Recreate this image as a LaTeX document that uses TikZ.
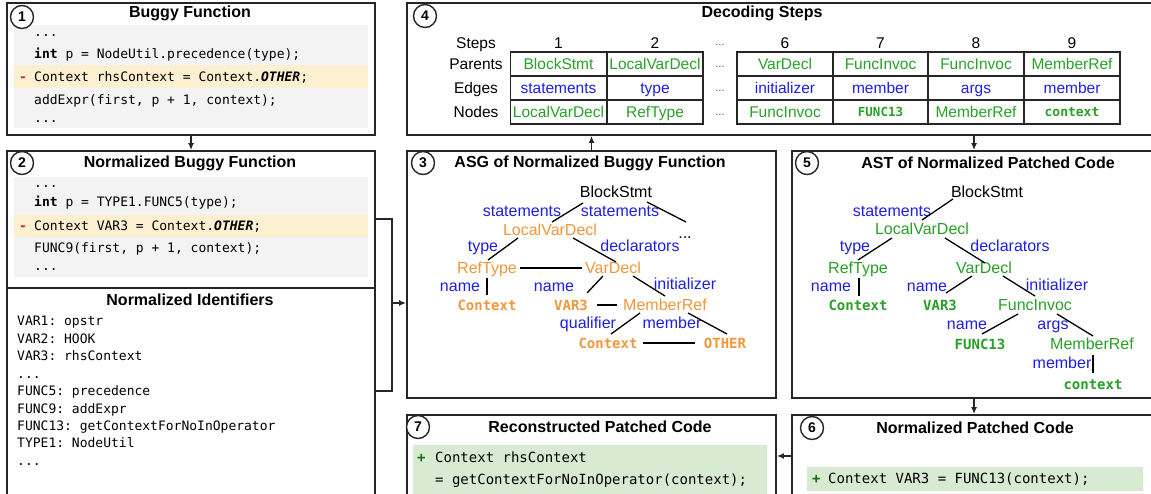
\documentclass[tikz,border=0pt]{standalone}
\usepackage{fontspec}
\setmainfont{Liberation Sans}
\setsansfont{Liberation Sans}
\setmonofont{DejaVu Sans Mono}
\usetikzlibrary{arrows.meta,calc}
\definecolor{asgorange}{RGB}{242,150,60}
\definecolor{astgreen}{RGB}{40,160,40}
\definecolor{edgeblue}{RGB}{30,30,230}
\definecolor{codegray}{RGB}{243,243,243}
\definecolor{hlyellow}{RGB}{253,240,208}
\definecolor{addgreen}{RGB}{217,234,211}
\definecolor{delred}{RGB}{215,30,30}
\definecolor{plusgreen}{RGB}{20,110,20}
\begin{document}
\begin{tikzpicture}[x=1pt,y=-1pt,
  box/.style={draw=black!85, line width=1.8pt, inner sep=0, rectangle},
  boxline/.style={draw=black!85, line width=1.8pt},
  ttl/.style={inner sep=0, font=\fontsize{16}{19}\selectfont\bfseries},
  num/.style={circle, draw=black!85, fill=white, line width=1.4pt, minimum size=23, inner sep=0, font=\fontsize{14}{16}\selectfont\bfseries},
  code/.style={anchor=base west, inner sep=0, font=\fontsize{13}{15}\selectfont\ttfamily},
  bigcode/.style={anchor=base west, inner sep=0, font=\fontsize{14}{16}\selectfont\ttfamily},
  tn/.style={inner sep=0, text height=11.5, text depth=0, font=\fontsize{16}{19}\selectfont},
  lbl/.style={tn, text=edgeblue},
  mono/.style={inner sep=0, text height=10.2, text depth=0, font=\fontsize{14}{16}\selectfont\ttfamily\bfseries},
  treeedge/.style={line width=1.3pt, black},
  conn/.style={line width=1.4pt, black!85},
  arr/.style={line width=1.4pt, black!85, -{Latex[length=7,width=6]}},
  cell/.style={draw=black!85, line width=1.2pt, minimum width=96, minimum height=24, inner sep=0, text height=11, text depth=0, font=\fontsize{15.5}{18}\selectfont},
  rowlbl/.style={inner sep=0, text height=11, text depth=0, font=\fontsize{15.5}{18}\selectfont},
  tdots/.style={inner sep=0, font=\fontsize{11}{13}\selectfont, text=black!70}
]
\useasboundingbox (0,0) rectangle (1151,494);
\clip (0,0) rectangle (1151,494);

% ---------- backgrounds ----------
\fill[codegray] (14,25) rectangle (368,128);
\fill[hlyellow] (14,65) rectangle (368,88);
\fill[codegray] (14,177) rectangle (368,277);
\fill[hlyellow] (14,215) rectangle (368,237);
\fill[addgreen] (413,445) rectangle (767,500);
\fill[addgreen] (807,467) rectangle (1143,491);

% ---------- boxes ----------
\node[box, minimum width=368, minimum height=132] (b1) at (191,69) {};
\node[box, minimum width=368, minimum height=369] (b2) at (191,335.5) {};
\node[box, minimum width=369, minimum height=247] (b3) at (591.5,274.5) {};
\node[box, minimum width=749, minimum height=132] (b4) at (781.5,69) {};
\node[box, minimum width=364, minimum height=247] (b5) at (974,274.5) {};
\node[box, minimum width=364, minimum height=105] (b6) at (974,467.5) {};
\node[box, minimum width=369, minimum height=105] (b7) at (591.5,467.5) {};
\draw[boxline] (b2.west |- 0,288) -- (b2.east |- 0,288);

% ---------- connectors ----------
\coordinate (brk) at (392,303);
\draw[arr] (b1.south) -- (b2.north);
\draw[conn] (b2.east |- 0,219) -| (brk |- 0,391) -- (b2.east |- 0,391);
\draw[arr] (brk) -- (brk -| b3.west);
\draw[arr] (b3.north) -- (b3.north |- b4.south);
\draw[arr] (b4.south -| b5.north) -- (b5.north);
\draw[arr] (b5.south) -- (b6.north);
\draw[arr] (b6.west |- 0,456) -- (b7.east |- 0,456);

% ---------- numbers ----------
\node[num] (n1) at (22,17) {1};
\node[num] (n2) at (22,163) {2};
\node[num] (n3) at (423,163) {3};
\node[num] (n4) at (425,16) {4};
\node[num] (n5) at (807,163) {5};
\node[num] (n6) at (812,428) {6};
\node[num] (n7) at (418,427) {7};

% ---------- titles ----------
\node[ttl] (t1) at (190,13) {Buggy Function};
\node[ttl] (t2) at (190,163) {Normalized Buggy Function};
\node[ttl] (t2b) at (190,300) {Normalized Identifiers};
\node[ttl] (t3) at (590,163) {ASG of Normalized Buggy Function};
\node[ttl] (t4) at (762,13) {Decoding Steps};
\node[ttl] (t5) at (988,163) {AST of Normalized Patched Code};
\node[ttl] (t6) at (975,428) {Normalized Patched Code};
\node[ttl] (t7) at (600,427) {Reconstructed Patched Code};

% ---------- box 1 code ----------
\node[code] (c11) at (34,37) {...};
\node[code] (c12) at (34,59) {\textbf{int} p = NodeUtil.precedence(type);};
\node[code, text=delred] (c13m) at (19,82) {\textbf{-}};
\node[code] (c13) at (34,82) {Context rhsContext = Context.\textbf{\textit{OTHER}};};
\node[code] (c14) at (34,105) {addExpr(first, p + 1, context);};
\node[code] (c15) at (34,123) {...};

% ---------- box 2 code ----------
\node[code] (c21) at (34,188) {...};
\node[code] (c22) at (34,207) {\textbf{int} p = TYPE1.FUNC5(type);};
\node[code, text=delred] (c23m) at (19,231) {\textbf{-}};
\node[code] (c23) at (34,231) {Context VAR3 = Context.\textbf{\textit{OTHER}};};
\node[code] (c24) at (34,253) {FUNC9(first, p + 1, context);};
\node[code] (c25) at (34,271) {...};

% ---------- identifiers ----------
\node[code] (i1) at (17,326) {VAR1: opstr};
\node[code] (i2) at (17,343.4) {VAR2: HOOK};
\node[code] (i3) at (17,360.8) {VAR3: rhsContext};
\node[code] (i4) at (17,378.2) {...};
\node[code] (i5) at (17,395.6) {FUNC5: precedence};
\node[code] (i6) at (17,413) {FUNC9: addExpr};
\node[code] (i7) at (17,430.4) {FUNC13: getContextForNoInOperator};
\node[code] (i8) at (17,447.8) {TYPE1: NodeUtil};
\node[code] (i9) at (17,465.2) {...};

% ---------- box 7 code ----------
\node[bigcode, text=plusgreen] (c71m) at (417,462) {\textbf{+}};
\node[bigcode] (c71) at (435,462) {Context rhsContext};
\node[bigcode] (c72) at (435,484) {= getContextForNoInOperator(context);};

% ---------- box 6 code ----------
\node[bigcode, text=plusgreen] (c61m) at (812,483) {\textbf{+}};
\node[bigcode] (c61) at (828,483) {Context VAR3 = FUNC13(context);};

% ---------- decoding table ----------
\node[rowlbl] (rs) at (476,43) {Steps};
\node[rowlbl] (rp) at (476,64) {Parents};
\node[rowlbl] (re) at (476,88) {Edges};
\node[rowlbl] (rn) at (476,112) {Nodes};
\foreach \n/\x in {1/558.5,2/655,6/785,7/880.5,8/976,9/1072}
  \node[rowlbl] (h\n) at (\x,43) {\n};
\node[tdots] (hd) at (720,45) {...};
\node[tdots] (pd) at (720,67) {...};
\node[tdots] (ed) at (720,91) {...};
\node[tdots] (nd) at (720,115) {...};
\node[cell, text=astgreen] (p1) at (558.5,64) {BlockStmt};
\node[cell, text=astgreen] (p2) at (655,64) {LocalVarDecl};
\node[cell, text=astgreen] (p6) at (785,64) {VarDecl};
\node[cell, text=astgreen] (p7) at (880.5,64) {FuncInvoc};
\node[cell, text=astgreen] (p8) at (976,64) {FuncInvoc};
\node[cell, text=astgreen] (p9) at (1072,64) {MemberRef};
\node[cell, text=edgeblue] (e1) at (558.5,88) {statements};
\node[cell, text=edgeblue] (e2) at (655,88) {type};
\node[cell, text=edgeblue] (e6) at (785,88) {initializer};
\node[cell, text=edgeblue] (e7) at (880.5,88) {member};
\node[cell, text=edgeblue] (e8) at (976,88) {args};
\node[cell, text=edgeblue] (e9) at (1072,88) {member};
\node[cell, text=astgreen] (d1) at (558.5,112) {LocalVarDecl};
\node[cell, text=astgreen] (d2) at (655,112) {RefType};
\node[cell, text=astgreen] (d6) at (785,112) {FuncInvoc};
\node[cell, text=astgreen, text height=9, font=\fontsize{12.5}{15}\selectfont\ttfamily\bfseries] (d7) at (880.5,112) {FUNC13};
\node[cell, text=astgreen] (d8) at (976,112) {MemberRef};
\node[cell, text=astgreen, text height=9.5, font=\fontsize{13}{15}\selectfont\ttfamily\bfseries] (d9) at (1072,112) {context};

% ---------- ASG (box 3) ----------
\node[tn] (abs) at (616,192) {BlockStmt};
\node[tn, text=asgorange] (alvd) at (550,230) {LocalVarDecl};
\node[tn] (adots) at (685,233) {...};
\node[tn, text=asgorange] (art) at (487,268) {RefType};
\node[tn, text=asgorange] (avd) at (613,268) {VarDecl};
\node[mono, text=asgorange] (actx) at (487,305) {Context};
\node[mono, text=asgorange] (avar) at (571,305) {VAR3};
\node[tn, text=asgorange] (amr) at (665,305) {MemberRef};
\node[mono, text=asgorange] (actx2) at (608,343) {Context};
\node[mono, text=asgorange] (aoth) at (725,343) {OTHER};
\node[lbl] (al1) at (522,211) {statements};
\node[lbl] (al2) at (620,211) {statements};
\node[lbl] (al3) at (483,246) {type};
\node[lbl] (al4) at (640,246) {declarators};
\node[lbl] (al5) at (460,286) {name};
\node[lbl] (al6) at (554,286) {name};
\node[lbl] (al7) at (685,284) {initializer};
\node[lbl] (al8) at (588,323) {qualifier};
\node[lbl] (al9) at (672,323) {member};
\draw[treeedge] ([shift={(-33,11)}]abs.center) -- ([shift={(2,-8)}]alvd.center);
\draw[treeedge] ([shift={(31,10)}]abs.center) -- ([shift={(1,-11)}]adots.center);
\draw[treeedge] ([shift={(-32,8)}]alvd.center) -- ([shift={(1,-8)}]art.center);
\draw[treeedge] ([shift={(23,8)}]alvd.center) -- ([shift={(3,-6)}]avd.center);
\draw[treeedge] ([shift={(33,0)}]art.center) -- ([shift={(-31,0)}]avd.center);
\draw[treeedge] ([shift={(0,10)}]art.center) -- ([shift={(0,-10)}]actx.center);
\draw[treeedge] ([shift={(-10,8)}]avd.center) -- ([shift={(16,-12)}]avar.center);
\draw[treeedge] ([shift={(20,8)}]avd.center) -- ([shift={(0,-9)}]amr.center);
\draw[treeedge] ([shift={(26,0)}]avar.center) -- ([shift={(-48,0)}]amr.center);
\draw[treeedge] ([shift={(-25,8)}]amr.center) -- ([shift={(3,-9)}]actx2.center);
\draw[treeedge] ([shift={(23,8)}]amr.center) -- ([shift={(2,-9)}]aoth.center);
\draw[treeedge] ([shift={(35,0)}]actx2.center) -- ([shift={(-30,0)}]aoth.center);

% ---------- AST (box 5) ----------
\node[tn] (sbs) at (987,192) {BlockStmt};
\node[tn, text=astgreen] (slvd) at (922,229) {LocalVarDecl};
\node[tn, text=astgreen] (srt) at (858,268) {RefType};
\node[tn, text=astgreen] (svd) at (984,268) {VarDecl};
\node[mono, text=astgreen] (sctx) at (858,305) {Context};
\node[mono, text=astgreen] (svar) at (940,305) {VAR3};
\node[tn, text=astgreen] (sfi) at (1035,305) {FuncInvoc};
\node[mono, text=astgreen] (sf13) at (980,344) {FUNC13};
\node[tn, text=astgreen] (smr) at (1092,344) {MemberRef};
\node[mono, text=astgreen] (scx) at (1093,384) {context};
\node[lbl] (sl1) at (892,211) {statements};
\node[lbl] (sl2) at (855,246) {type};
\node[lbl] (sl3) at (1010,246) {declarators};
\node[lbl] (sl4) at (831,286) {name};
\node[lbl] (sl5) at (927,286) {name};
\node[lbl] (sl6) at (1057,285) {initializer};
\node[lbl] (sl7) at (967,324) {name};
\node[lbl] (sl8) at (1053,324) {args};
\node[lbl] (sl9) at (1062,363) {member};
\draw[treeedge] ([shift={(-34,7)}]sbs.center) -- ([shift={(0,-9)}]slvd.center);
\draw[treeedge] ([shift={(-30,9)}]slvd.center) -- ([shift={(0,-8)}]srt.center);
\draw[treeedge] ([shift={(23,9)}]slvd.center) -- ([shift={(1,-5)}]svd.center);
\draw[treeedge] ([shift={(1,10)}]srt.center) -- ([shift={(1,-9)}]sctx.center);
\draw[treeedge] ([shift={(-12,8)}]svd.center) -- ([shift={(6,-12)}]svar.center);
\draw[treeedge] ([shift={(19,8)}]svd.center) -- ([shift={(0,-9)}]sfi.center);
\draw[treeedge] ([shift={(-17,9)}]sfi.center) -- ([shift={(2,-10)}]sf13.center);
\draw[treeedge] ([shift={(22,9)}]sfi.center) -- ([shift={(1,-8)}]smr.center);
\draw[treeedge] ([shift={(1,11)}]smr.center) -- ([shift={(0,-11)}]scx.center);
\end{tikzpicture}
\end{document}
